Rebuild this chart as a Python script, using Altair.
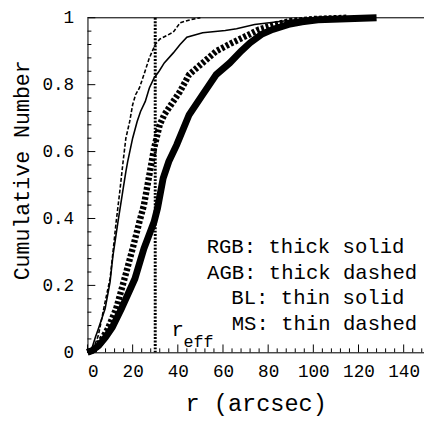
import altair as alt
import pandas as pd

# ---- data ----
RGB_R = [0, 2, 5, 8, 11, 15, 19, 21, 25, 29.5, 31, 33.5, 36, 39.5, 45, 51, 57, 63, 68, 72, 77, 82, 89, 95, 102, 115, 128]
RGB_F = [0, 0.005, 0.02, 0.045, 0.075, 0.13, 0.19, 0.22, 0.31, 0.39, 0.43, 0.52, 0.57, 0.62, 0.71, 0.77, 0.83, 0.865, 0.9, 0.925, 0.95, 0.965, 0.98, 0.988, 0.994, 0.997, 1.0]

AGB_R = [0, 3.5, 6, 9, 12.7, 16.4, 20, 23, 25, 27.4, 29.5, 32, 34, 38, 41, 45, 51, 57, 64, 71, 76, 83, 90, 100, 115]
AGB_F = [0, 0.01, 0.035, 0.07, 0.13, 0.22, 0.31, 0.39, 0.44, 0.53, 0.61, 0.68, 0.71, 0.75, 0.78, 0.83, 0.865, 0.9, 0.925, 0.948, 0.965, 0.98, 0.99, 0.996, 1.0]

BL_R = [0, 1.7, 3.5, 4.8, 7.8, 10, 11.3, 13.5, 15.6, 17, 17.8, 20, 22, 23.5, 25.6, 27.4, 29.5, 31.7, 34, 38, 41, 44, 51, 61, 66, 74, 87, 100]
BL_F = [0, 0.006, 0.045, 0.07, 0.13, 0.21, 0.29, 0.39, 0.48, 0.54, 0.57, 0.64, 0.69, 0.72, 0.75, 0.79, 0.82, 0.84, 0.865, 0.895, 0.92, 0.942, 0.955, 0.962, 0.967, 0.98, 0.99, 1.0]

MS_R = [0, 2.6, 4.8, 6, 7.8, 10, 11.3, 12.7, 14.3, 15.6, 17, 18.7, 20, 21.3, 23, 25, 27.4, 30, 32, 38, 41, 46, 50]
MS_F = [0, 0.01, 0.05, 0.09, 0.15, 0.22, 0.3, 0.39, 0.48, 0.56, 0.64, 0.69, 0.74, 0.77, 0.79, 0.83, 0.88, 0.92, 0.936, 0.957, 0.985, 0.995, 1.0]

R_EFF = 30

X_TICKS = [0, 20, 40, 60, 80, 100, 120, 140]
X_MINOR = [v for v in range(0, 149, 4) if v % 20 != 0]
Y_TICKS = [0, 0.2, 0.4, 0.6, 0.8, 1]
Y_MINOR = [round(i * 0.04, 2) for i in range(26) if i % 5 != 0]

LEGEND = ["RGB: thick solid", "AGB: thick dashed", "BL: thin solid", "MS: thin dashed"]

FONT = "Liberation Mono"
TOP = 6
W, H = 343, 341

xscale = alt.Scale(domain=[0, 149], nice=False, zero=False)
yscale = alt.Scale(domain=[0, 1], nice=False, zero=False)

xaxis = alt.Axis(values=X_TICKS, ticks=False, tickSize=0, grid=False, domainColor="black", domainWidth=1,
                 labelFont=FONT, labelFontSize=18, labelColor="black", labelPadding=11,
                 title="r (arcsec)", titleFont=FONT, titleFontSize=24, titleFontWeight="normal",
                 titleColor="black", titleX=W / 2, titleY=52, titleBaseline="middle", titleAlign="center")
yaxis = alt.Axis(values=Y_TICKS, ticks=False, tickSize=0, grid=False, domainColor="black", domainWidth=1,
                 format="~g", labelFont=FONT, labelFontSize=18, labelColor="black", labelPadding=14,
                 title="Cumulative Number", titleFont=FONT, titleFontSize=22, titleFontWeight="normal",
                 titleColor="black", titleX=-67, titleY=155, titleAngle=-90,
                 titleBaseline="middle", titleAlign="center")

X = lambda: alt.X("r:Q", scale=xscale, axis=xaxis)
Y = lambda: alt.Y("F:Q", scale=yscale, axis=yaxis)


def series(rs, fs):
    return pd.DataFrame({"r": rs, "F": fs})


rgb = alt.Chart(series(RGB_R, RGB_F)).mark_line(color="black", strokeWidth=7).encode(x=X(), y=Y())
agb = alt.Chart(series(AGB_R, AGB_F)).mark_line(color="black", strokeWidth=6.5, strokeDash=[3, 2]).encode(x=X(), y=Y())
bl = alt.Chart(series(BL_R, BL_F)).mark_line(color="black", strokeWidth=1.6).encode(x=X(), y=Y())
ms = alt.Chart(series(MS_R, MS_F)).mark_line(color="black", strokeWidth=1.6, strokeDash=[4, 2]).encode(x=X(), y=Y())

reff = alt.Chart(pd.DataFrame({"r": [R_EFF]})).mark_rule(color="black", strokeWidth=3, strokeDash=[2, 1.5]).encode(x=X())
top = alt.Chart(pd.DataFrame({"F": [1]})).mark_rule(color="black", strokeWidth=1).encode(y=Y())

xmaj = alt.Chart(pd.DataFrame({"r": X_TICKS})).mark_rule(color="black", strokeWidth=1).encode(
    x=X(), y=alt.value(H), y2=alt.value(H - 8))
xmin = alt.Chart(pd.DataFrame({"r": X_MINOR})).mark_rule(color="black", strokeWidth=1).encode(
    x=X(), y=alt.value(H), y2=alt.value(H - 4))
ymaj = alt.Chart(pd.DataFrame({"F": Y_TICKS})).mark_rule(color="black", strokeWidth=1).encode(
    y=Y(), x=alt.value(0), x2=alt.value(8))
ymin = alt.Chart(pd.DataFrame({"F": Y_MINOR})).mark_rule(color="black", strokeWidth=1).encode(
    y=Y(), x=alt.value(0), x2=alt.value(4))

base = alt.Chart(pd.DataFrame({"a": [0]}))
leg_ends = [323, 336, 323, 336]
leg_ys = [234, 260, 286, 312]
legend_layers = [
    base.mark_text(font=FONT, fontSize=21, align="right", baseline="middle", color="black").encode(
        x=alt.value(xe), y=alt.value(yy), text=alt.value(t))
    for t, xe, yy in zip(LEGEND, leg_ends, leg_ys)
]
r_lbl = base.mark_text(font=FONT, fontSize=21, align="center", baseline="middle", color="black").encode(
    x=alt.value(92), y=alt.value(318), text=alt.value("r"))
eff_lbl = base.mark_text(font=FONT, fontSize=17, align="left", baseline="middle", color="black").encode(
    x=alt.value(98), y=alt.value(331), text=alt.value("eff"))

chart = alt.layer(ms, bl, agb, rgb, reff, top, xmaj, xmin, ymaj, ymin, *legend_layers, r_lbl, eff_lbl).properties(
    width=W, height=H,
    autosize=alt.AutoSizeParams(type="none"),
    padding={"left": 81, "top": TOP, "right": 0, "bottom": 62},
).configure_view(stroke=None).configure(background="white")

chart.save("out.html", embed_options={"renderer": "svg", "actions": False})
